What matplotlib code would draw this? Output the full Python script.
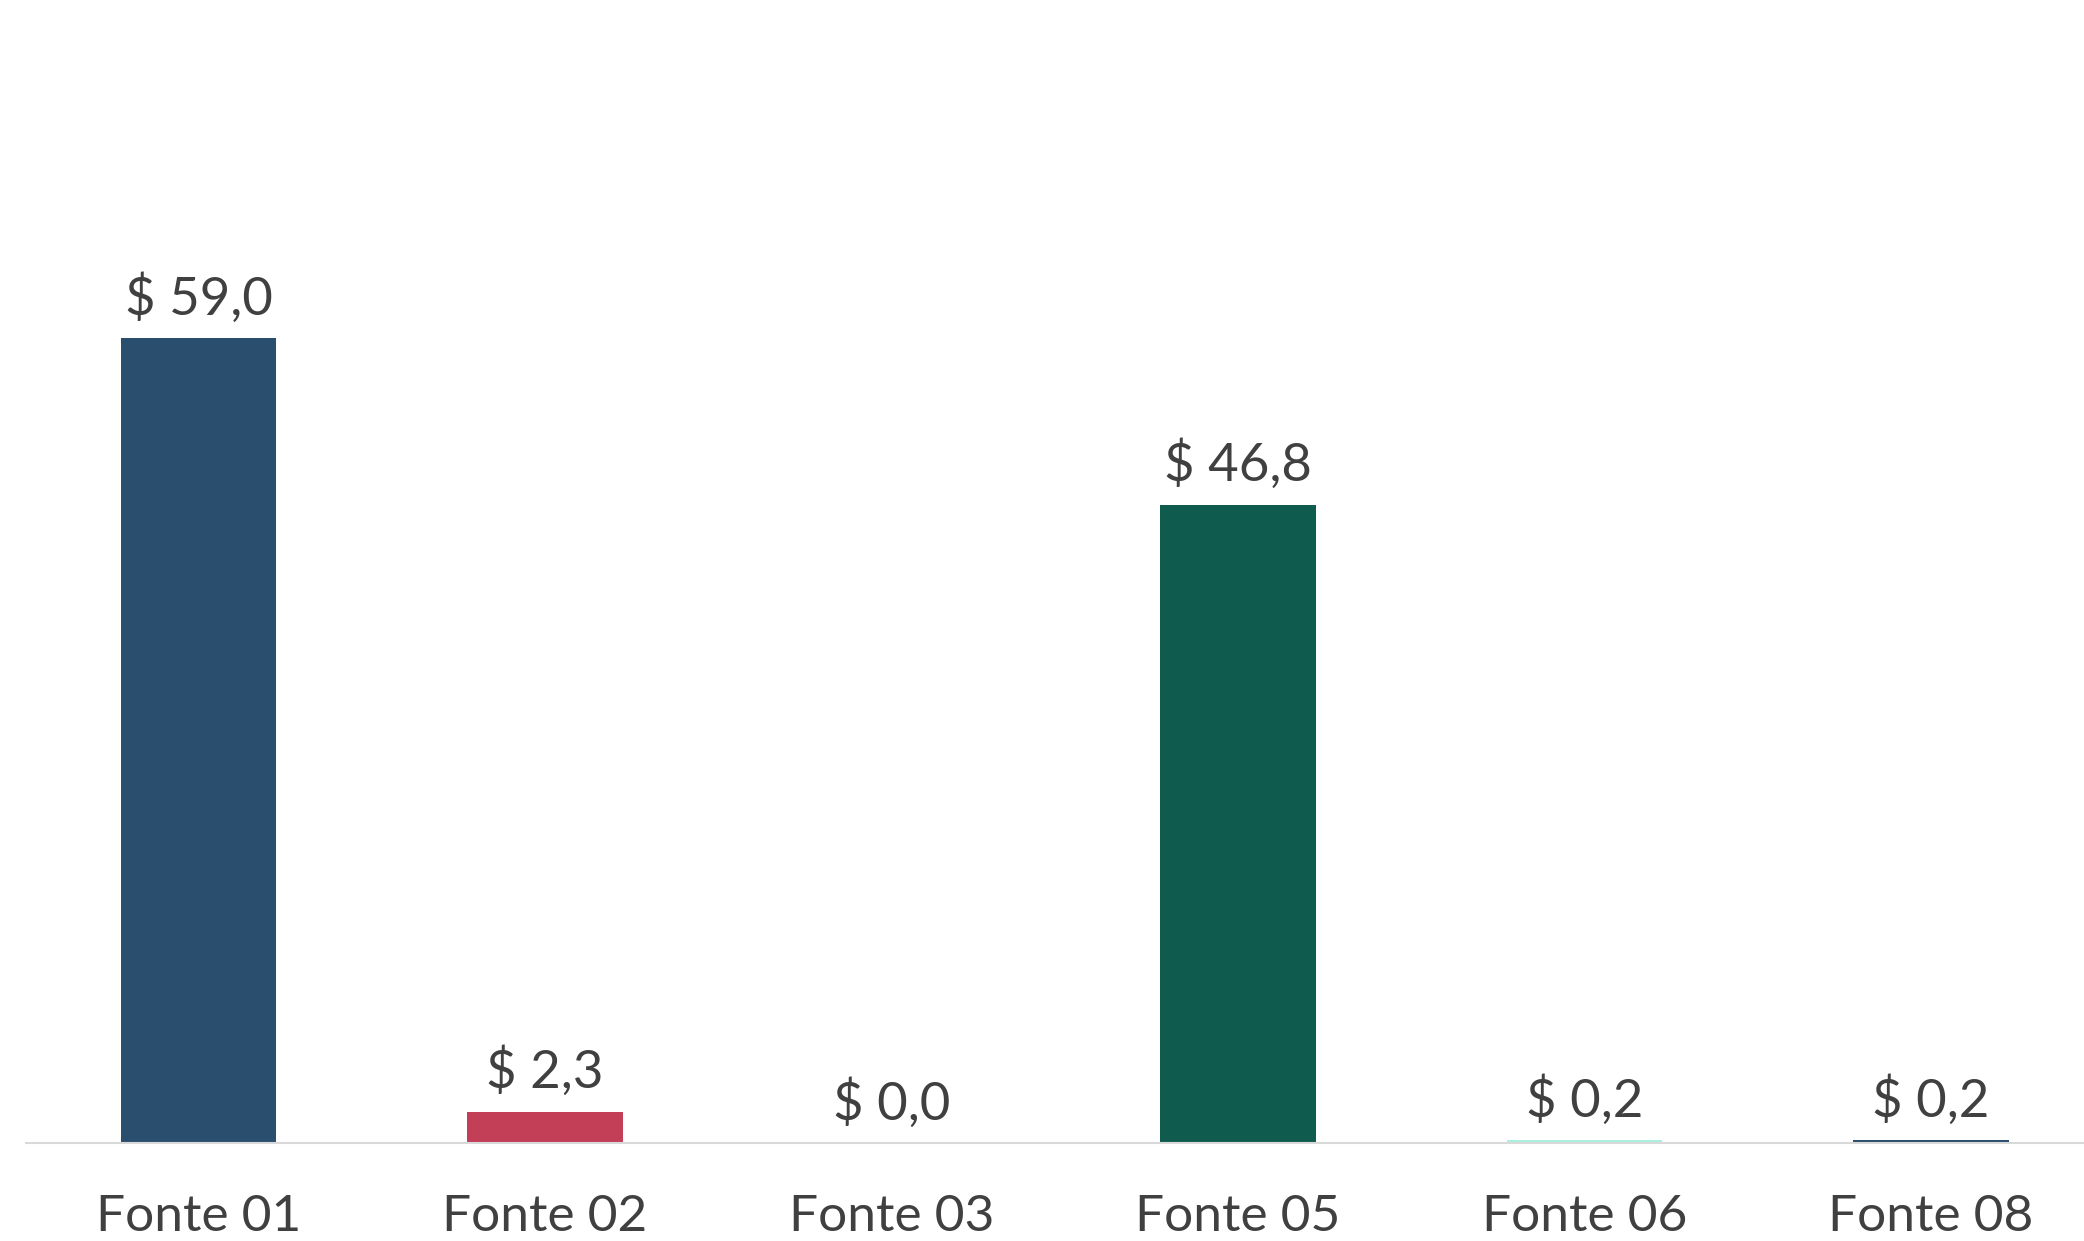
import matplotlib.pyplot as plt

# Dados do grafico
categorias = ['Fonte 01', 'Fonte 02', 'Fonte 03', 'Fonte 05', 'Fonte 06', 'Fonte 08']
valores = [59.0, 2.3, 0.0, 46.8, 0.2, 0.2]
cores = ['#2A4F6E', '#C33F58', '#2A4F6E', '#0F5B4E', '#A8F0E0', '#2A4F6E']

plt.rcParams['font.family'] = ['Lato', 'DejaVu Sans']
texto = '#404040'

fig = plt.figure(figsize=(20.84, 12.41), dpi=100)
# eixo vai um pouco alem da borda direita, como no original
esq = 25.5 / 2084
base = 1 - 1143 / 1241
ax = fig.add_axes([esq, base, 1 - esq, 1 - base])

x = list(range(len(categorias)))
ax.bar(x, valores, width=0.449, color=cores)

for xi, v in zip(x, valores):
    rotulo = '$ ' + ('%.1f' % v).replace('.', ',')
    ax.annotate(rotulo, (xi, v), xytext=(0, 10.5), textcoords='offset points',
                ha='center', va='bottom', fontsize=38, color=texto)

ax.set_xlim(-0.5, 5.5 - 20 / 346.5)
ax.set_ylim(0, 1143 / 13.64)
ax.set_xticks(x)
ax.set_xticklabels(categorias, fontsize=37, color=texto)
ax.tick_params(axis='x', length=0, pad=37)
ax.set_yticks([])
for lado in ['top', 'right', 'left']:
    ax.spines[lado].set_visible(False)
ax.spines['bottom'].set_color('#D9D9D9')
ax.spines['bottom'].set_linewidth(1.5)

plt.savefig('out.png', dpi=100)
